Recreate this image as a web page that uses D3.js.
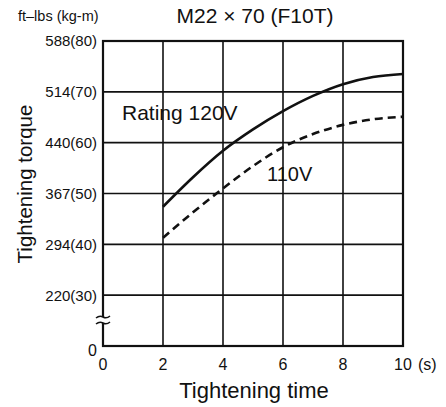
<!DOCTYPE html>
<html>
<head>
<meta charset="utf-8">
<script src="https://cdn.jsdelivr.net/npm/d3@7"></script>
<style>
  body { margin: 0; background: #fff; }
  text { font-family: "Liberation Sans", Arial, sans-serif; fill: #111; }
</style>
</head>
<body>
<svg width="446" height="407"></svg>
<script>
// chart values (torque in kg-m, time in seconds)
var timeTicks = [0, 2, 4, 6, 8, 10];
var torqueTicks = [30, 40, 50, 60, 70, 80];
var torqueLabels = ['220(30)', '294(40)', '367(50)', '440(60)', '514(70)', '588(80)'];
var times = [2, 3, 4, 5, 6, 7, 8, 9, 10];
var rated120 = [47.4, 53.2, 58.4, 62.6, 66.2, 69.2, 71.5, 72.9, 73.5];
var volt110 = [41.3, 46.3, 51.0, 55.4, 59.1, 61.7, 63.5, 64.6, 65.1];

var svg = d3.select('svg');
var plotLeft = 103, plotRight = 403, plotTop = 41, plotBottom = 346;

var x = d3.scaleLinear().domain([0, 10]).range([plotLeft, plotRight]);
// axis is broken below 30 kg-m; the bottom edge stands for 0
var y = d3.scaleLinear().domain([20, 80]).range([plotBottom, plotTop]);

// grid
svg.append('g').selectAll('line')
   .data(timeTicks.slice(1, -1))
   .enter().append('line')
     .attr('x1', function(d) { return x(d); })
     .attr('x2', function(d) { return x(d); })
     .attr('y1', plotTop).attr('y2', plotBottom)
     .attr('stroke', '#111').attr('stroke-width', 1.6);

svg.append('g').selectAll('line')
   .data(torqueTicks.slice(0, -1))
   .enter().append('line')
     .attr('x1', plotLeft).attr('x2', plotRight)
     .attr('y1', function(d) { return y(d); })
     .attr('y2', function(d) { return y(d); })
     .attr('stroke', '#111').attr('stroke-width', 1.6);

// frame
svg.append('rect')
   .attr('x', plotLeft).attr('y', plotTop)
   .attr('width', plotRight - plotLeft).attr('height', plotBottom - plotTop)
   .attr('fill', 'none').attr('stroke', '#111').attr('stroke-width', 2.2);

// axis break
var by = 320;
svg.append('rect').attr('x', plotLeft - 3).attr('y', by - 3).attr('width', 6).attr('height', 6).attr('fill', '#fff');
[by - 3, by + 3].forEach(function(yy) {
  svg.append('path')
     .attr('d', 'M' + (plotLeft - 7) + ',' + (yy + 1) + ' q3.5,-3 7,-1 t7,-1')
     .attr('fill', 'none').attr('stroke', '#111').attr('stroke-width', 1.5);
});

// y tick labels
svg.append('g').selectAll('text')
   .data(torqueTicks)
   .enter().append('text')
     .attr('x', plotLeft - 6)
     .attr('y', function(d) { return y(d); })
     .attr('dy', '0.36em')
     .attr('text-anchor', 'end')
     .attr('font-size', 15)
     .text(function(d, i) { return torqueLabels[i]; });
svg.append('text').attr('x', 97).attr('y', 356).attr('text-anchor', 'end').attr('font-size', 16).text('0');

// x tick labels
svg.append('g').selectAll('text')
   .data(timeTicks)
   .enter().append('text')
     .attr('x', function(d) { return x(d); })
     .attr('y', 370)
     .attr('text-anchor', 'middle')
     .attr('font-size', 16)
     .text(function(d) { return d; });
svg.append('text').attr('x', 418).attr('y', 370).attr('font-size', 16).text('(s)');

// curves
var line = d3.line()
  .x(function(d) { return x(d[0]); })
  .y(function(d) { return y(d[1]); })
  .curve(d3.curveMonotoneX);

svg.append('path')
   .attr('d', line(d3.zip(times, rated120)))
   .attr('fill', 'none').attr('stroke', '#111').attr('stroke-width', 2.6);
svg.append('path')
   .attr('d', line(d3.zip(times, volt110)))
   .attr('fill', 'none').attr('stroke', '#111').attr('stroke-width', 2.6)
   .attr('stroke-dasharray', '8,5');

// labels
svg.append('text').attr('x', 122).attr('y', 120).attr('font-size', 21).text('Rating 120V');
svg.append('text').attr('x', 267).attr('y', 181).attr('font-size', 20).text('110V');

svg.append('text').attr('x', 255).attr('y', 23).attr('text-anchor', 'middle').attr('font-size', 21).text('M22 \u00d7 70 (F10T)');
svg.append('text').attr('x', 18).attr('y', 21).attr('font-size', 14.5).text('ft\u2013lbs (kg-m)');
svg.append('text').attr('x', 254).attr('y', 398).attr('text-anchor', 'middle').attr('font-size', 22).text('Tightening time');
svg.append('text')
   .attr('transform', 'translate(32,184) rotate(-90)')
   .attr('text-anchor', 'middle').attr('font-size', 20.5)
   .text('Tightening torque');
</script>
</body>
</html>
